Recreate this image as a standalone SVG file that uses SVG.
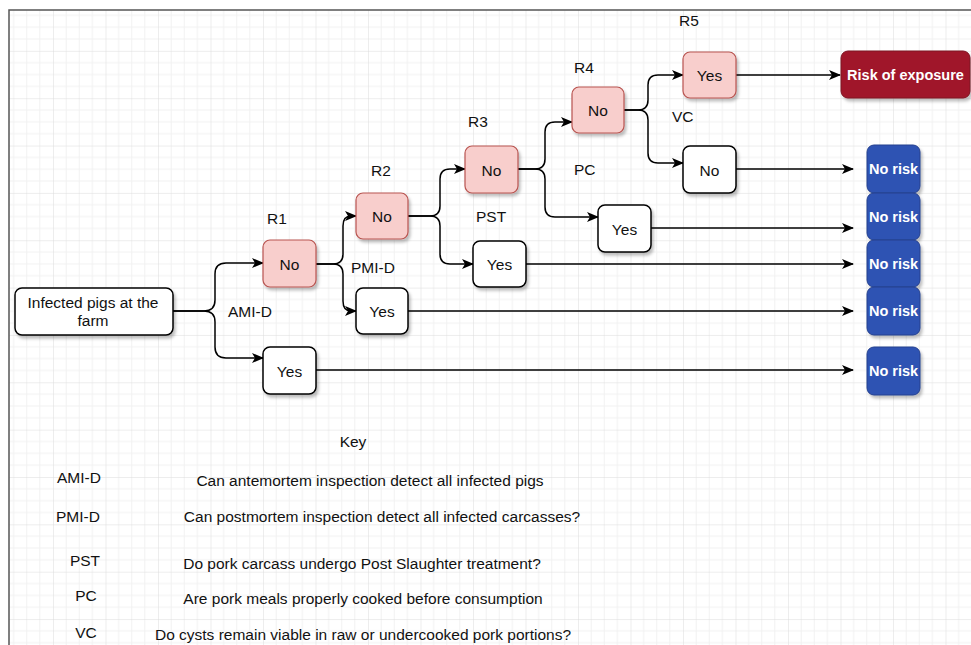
<svg xmlns="http://www.w3.org/2000/svg" width="971" height="645" viewBox="0 0 971 645">
  <defs>
    <pattern id="grid" patternUnits="userSpaceOnUse" x="0.5" y="3.5" width="52.5" height="47.35">
      <path d="M13.125 0V47.35M26.25 0V47.35M39.375 0V47.35M0 11.84H52.5M0 23.67H52.5M0 35.51H52.5" stroke="#f1f1f1" stroke-width="1" fill="none"/>
      <path d="M0 0V47.35M0 0H52.5" stroke="#dcdcdc" stroke-width="1" fill="none"/>
    </pattern>
    <filter id="shadow" x="-20%" y="-20%" width="150%" height="160%">
      <feDropShadow dx="2" dy="3" stdDeviation="1.5" flood-color="#000" flood-opacity="0.25"/>
    </filter>
    <marker id="arrow" viewBox="0 0 12 10" refX="11" refY="5" markerWidth="12" markerHeight="10" markerUnits="userSpaceOnUse" orient="auto">
      <path d="M0 0L12 5L0 10L3 5Z" fill="#000"/>
    </marker>
    <style>
      .node { stroke: #000; stroke-width: 1.5; fill: #fff; filter: url(#shadow); }
      .pink { fill: #f8cecc; stroke: #b85450; stroke-width: 1.2; filter: url(#shadow); }
      .risk { fill: #a0192a; stroke: #7d1020; stroke-width: 1; filter: url(#shadow); }
      .safe { fill: #2f52b3; stroke: #24418f; stroke-width: 1; filter: url(#shadow); }
      .edge { fill: none; stroke: #000; stroke-width: 1.5; marker-end: url(#arrow); }
      text { font-family: "Liberation Sans", Arial, sans-serif; font-size: 15.5px; fill: #111; }
      .c { text-anchor: middle; dominant-baseline: central; }
      .w { fill: #fff; font-weight: bold; font-size: 14.5px; }
    </style>
  </defs>

  <!-- canvas: grid and frame -->
  <rect x="0" y="0" width="971" height="645" fill="#fff"/>
  <rect x="9" y="10" width="962" height="635" fill="url(#grid)"/>
  <path d="M9 645V10H971" fill="none" stroke="#555" stroke-width="1.5"/>

  <!-- connectors -->
  <g id="connectors">
    <!-- AMI-D -->
    <path class="edge" d="M173 311H204Q215 311 215 300V274Q215 263 226 263H263"/>
    <path class="edge" d="M173 311H204Q215 311 215 322V347Q215 358 226 358H263"/>
    <!-- PMI-D -->
    <path class="edge" d="M316 264H333Q343 264 343 254V226Q343 216 351 216H356"/>
    <path class="edge" d="M316 264H333Q343 264 343 274V301Q343 311 351 311H356"/>
    <!-- PST -->
    <path class="edge" d="M408 216H430Q440 216 440 206V179Q440 169 450 169H465"/>
    <path class="edge" d="M408 216H430Q440 216 440 226V254Q440 264 450 264H473"/>
    <!-- PC -->
    <path class="edge" d="M518 169H535Q545 169 545 159V132Q545 122 555 122H572"/>
    <path class="edge" d="M518 169H535Q545 169 545 179V207Q545 217 555 217H598"/>
    <!-- VC -->
    <path class="edge" d="M624 110H638Q648 110 648 100V85Q648 75 658 75H683"/>
    <path class="edge" d="M624 110H638Q648 110 648 120V153Q648 163 658 163H683"/>
    <!-- outcomes -->
    <path class="edge" d="M736 75H840"/>
    <path class="edge" d="M736 169H853"/>
    <path class="edge" d="M651 228H853"/>
    <path class="edge" d="M526 264H853"/>
    <path class="edge" d="M408 311H853"/>
    <path class="edge" d="M316 370H853"/>
  </g>

  <!-- branch labels -->
  <g id="branch-labels">
    <text x="228" y="317">AMI-D</text>
    <text x="351" y="273">PMI-D</text>
    <text x="476" y="222">PST</text>
    <text x="574" y="175">PC</text>
    <text x="672" y="122">VC</text>
    <text class="c" x="277" y="218">R1</text>
    <text class="c" x="381" y="170">R2</text>
    <text class="c" x="478" y="121">R3</text>
    <text class="c" x="584" y="67">R4</text>
    <text class="c" x="689" y="20">R5</text>
  </g>

  <!-- nodes -->
  <g id="start">
    <rect class="node" x="15" y="288" width="158" height="47" rx="7"/>
    <text class="c" x="93" y="302">Infected pigs at the</text>
    <text class="c" x="93" y="320">farm</text>
  </g>
  <g id="r1-no">
    <rect class="pink" x="263" y="240" width="53" height="47" rx="7"/>
    <text class="c" x="289.5" y="264">No</text>
  </g>
  <g id="ami-yes">
    <rect class="node" x="263" y="347" width="53" height="47" rx="7"/>
    <text class="c" x="289.5" y="371">Yes</text>
  </g>
  <g id="r2-no">
    <rect class="pink" x="356" y="193" width="52" height="46" rx="7"/>
    <text class="c" x="382" y="216">No</text>
  </g>
  <g id="pmi-yes">
    <rect class="node" x="356" y="288" width="52" height="46" rx="7"/>
    <text class="c" x="382" y="311">Yes</text>
  </g>
  <g id="r3-no">
    <rect class="pink" x="465" y="146" width="53" height="47" rx="7"/>
    <text class="c" x="491.5" y="170">No</text>
  </g>
  <g id="pst-yes">
    <rect class="node" x="473" y="241" width="53" height="46" rx="7"/>
    <text class="c" x="499.5" y="264">Yes</text>
  </g>
  <g id="r4-no">
    <rect class="pink" x="572" y="87" width="52" height="46" rx="7"/>
    <text class="c" x="598" y="110">No</text>
  </g>
  <g id="pc-yes">
    <rect class="node" x="598" y="205" width="53" height="47" rx="7"/>
    <text class="c" x="624.5" y="229">Yes</text>
  </g>
  <g id="r5-yes">
    <rect class="pink" x="683" y="52" width="53" height="46" rx="7"/>
    <text class="c" x="709.5" y="75">Yes</text>
  </g>
  <g id="vc-no">
    <rect class="node" x="683" y="146" width="53" height="47" rx="7"/>
    <text class="c" x="709.5" y="170">No</text>
  </g>
  <g id="risk">
    <rect class="risk" x="841" y="51" width="129" height="47" rx="7"/>
    <text class="c w" x="905.5" y="75">Risk of exposure</text>
  </g>
  <g id="no-risk-1">
    <rect class="safe" x="867" y="145" width="53" height="48" rx="7"/>
    <text class="c w" x="893.5" y="169">No risk</text>
  </g>
  <g id="no-risk-2">
    <rect class="safe" x="867" y="193" width="53" height="47" rx="7"/>
    <text class="c w" x="893.5" y="217">No risk</text>
  </g>
  <g id="no-risk-3">
    <rect class="safe" x="867" y="240" width="53" height="47" rx="7"/>
    <text class="c w" x="893.5" y="264">No risk</text>
  </g>
  <g id="no-risk-4">
    <rect class="safe" x="867" y="287" width="53" height="48" rx="7"/>
    <text class="c w" x="893.5" y="311">No risk</text>
  </g>
  <g id="no-risk-5">
    <rect class="safe" x="867" y="347" width="53" height="48" rx="7"/>
    <text class="c w" x="893.5" y="371">No risk</text>
  </g>

  <!-- key -->
  <g id="key">
    <text class="c" x="353" y="441">Key</text>
    <text class="c" x="79" y="477">AMI-D</text>
    <text class="c" x="370" y="480">Can antemortem inspection detect all infected pigs</text>
    <text class="c" x="78" y="516">PMI-D</text>
    <text class="c" x="382" y="516">Can postmortem inspection detect all infected carcasses?</text>
    <text class="c" x="85" y="560">PST</text>
    <text class="c" x="362" y="563">Do pork carcass undergo Post Slaughter treatment?</text>
    <text class="c" x="86" y="595">PC</text>
    <text class="c" x="363" y="598">Are pork meals properly cooked before consumption</text>
    <text class="c" x="86" y="632">VC</text>
    <text class="c" x="363" y="634">Do cysts remain viable in raw or undercooked pork portions?</text>
  </g>
</svg>
